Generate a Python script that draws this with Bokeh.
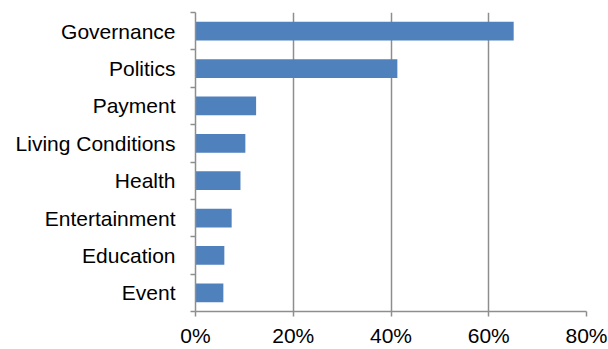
import numpy as np
from bokeh.plotting import figure
from bokeh.models import FixedTicker, NumeralTickFormatter, Range1d
from bokeh.embed import file_html
from bokeh.resources import INLINE

categories = ["Governance", "Politics", "Payment", "Living Conditions",
              "Health", "Entertainment", "Education", "Event"]
values = [0.651, 0.413, 0.124, 0.102, 0.092, 0.074, 0.059, 0.057]
x_ticks = [0.0, 0.2, 0.4, 0.6, 0.8]

n = len(categories)
ypos = [n - i - 0.5 for i in range(n)]

GRAY = "#8e8e8e"
FONT = "Liberation Sans"

p = figure(width=608, height=349, output_backend="svg", toolbar_location=None,
           x_range=Range1d(0, 0.8), y_range=Range1d(0, n),
           min_border_left=195, min_border_right=22, min_border_top=12,
           min_border_bottom=36)
p.outline_line_color = None
p.background_fill_color = "white"

p.hbar(y=ypos, right=values, left=0, height=0.5, color="#4F81BD", line_color=None)

# x axis
p.xaxis.ticker = FixedTicker(ticks=x_ticks)
p.xaxis.formatter = NumeralTickFormatter(format="0%")
p.xaxis.axis_line_color = GRAY
p.xaxis.axis_line_width = 1.5
p.xaxis.major_tick_line_color = GRAY
p.xaxis.major_tick_line_width = 1.5
p.xaxis.major_tick_out = 5
p.xaxis.major_tick_in = 0
p.xaxis.minor_tick_line_color = None
p.xaxis.major_label_text_font = FONT
p.xaxis.major_label_text_font_size = "21px"
p.xaxis.major_label_text_color = "black"
p.xaxis.major_label_standoff = 7

# y axis: labels at centers, ticks at boundaries
p.yaxis.ticker = FixedTicker(ticks=ypos, minor_ticks=list(range(n + 1)))
p.yaxis.major_label_overrides = {y: c for y, c in zip(ypos, categories)}
p.yaxis.axis_line_color = GRAY
p.yaxis.axis_line_width = 1.5
p.yaxis.major_tick_line_color = None
p.yaxis.minor_tick_line_color = GRAY
p.yaxis.minor_tick_line_width = 1.5
p.yaxis.minor_tick_out = 5
p.yaxis.minor_tick_in = 0
p.yaxis.major_label_text_font = FONT
p.yaxis.major_label_text_font_size = "21px"
p.yaxis.major_label_text_color = "black"
p.yaxis.major_label_standoff = 14

p.xgrid.ticker = FixedTicker(ticks=x_ticks[1:])
p.xgrid.grid_line_color = GRAY
p.xgrid.grid_line_width = 1.5
p.ygrid.grid_line_color = None

open("out.html", "w").write(file_html(p, INLINE))
